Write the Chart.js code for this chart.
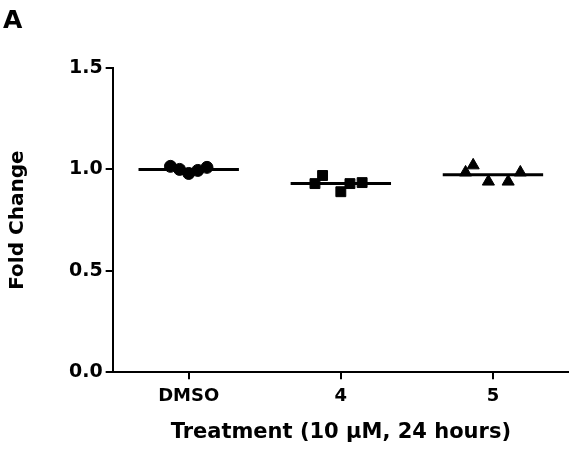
<!DOCTYPE html>
<html>
<head>
<meta charset="utf-8">
<script src="https://cdn.jsdelivr.net/npm/chart.js@4/dist/chart.umd.min.js"></script>
<style>
  body { margin: 0; background: #fff; overflow: hidden; }
  #wrap { width: 577px; height: 449px; }
</style>
</head>
<body>
<div id="wrap"><canvas id="chart"></canvas></div>
<script>
const categories = ["DMSO", "4", "5"];
const dmsoValues = [1.015, 1.0, 0.98, 0.995, 1.01];
const cmpd4Values = [0.93, 0.97, 0.89, 0.93, 0.935];
const cmpd5Values = [0.985, 1.02, 0.94, 0.94, 0.985];
const yTicks = [0, 0.5, 1.0, 1.5];

// horizontal spread of the dots inside each column (layout only)
const spread = [
  [-0.12, -0.06, 0, 0.06, 0.12],
  [-0.17, -0.12, 0, 0.06, 0.14],
  [-0.18, -0.13, -0.03, 0.1, 0.18]
];
const markers = ["circle", "rect", "triangle"];
const markerSize = [6, 7, 7];
const meanHalfWidth = 0.33;
const FONT = "'DejaVu Sans', 'Liberation Sans', Arial, sans-serif";

const groups = [dmsoValues, cmpd4Values, cmpd5Values];
const mean = arr => arr.reduce((a, b) => a + b, 0) / arr.length;

const datasets = [];
groups.forEach((vals, i) => {
  datasets.push({
    type: "scatter",
    label: categories[i],
    data: vals.map((v, j) => ({ x: i + spread[i][j], y: v })),
    pointStyle: markers[i],
    pointRadius: markerSize[i],
    backgroundColor: "#000",
    borderColor: "#000",
    borderWidth: 1
  });
  const m = mean(vals);
  datasets.push({
    type: "line",
    label: categories[i] + " mean",
    data: [{ x: i - meanHalfWidth, y: m }, { x: i + meanHalfWidth, y: m }],
    borderColor: "#000",
    borderWidth: 3,
    pointRadius: 0
  });
});

// panel letter
const panelLetter = {
  id: "panelLetter",
  afterDraw(chart) {
    const ctx = chart.ctx;
    ctx.save();
    ctx.fillStyle = "#000";
    ctx.font = "bold 25px " + FONT;
    ctx.textBaseline = "alphabetic";
    ctx.fillText("A", 3, 28);
    ctx.restore();
  }
};

new Chart(document.getElementById("chart"), {
  data: { datasets: datasets },
  options: {
    responsive: true,
    maintainAspectRatio: false,
    animation: false,
    layout: { padding: { top: 68, left: 6, right: 0, bottom: 4 } },
    plugins: { legend: { display: false }, tooltip: { enabled: false } },
    scales: {
      x: {
        type: "linear",
        min: -0.5,
        max: 2.5,
        afterBuildTicks: axis => { axis.ticks = categories.map((c, i) => ({ value: i })); },
        border: { color: "#000", width: 2 },
        grid: { drawOnChartArea: false, color: "#000", lineWidth: 2, tickLength: 7 },
        ticks: {
          color: "#000",
          font: { family: FONT, size: 18, weight: "bold" },
          padding: 6,
          callback: v => categories[v]
        },
        title: {
          display: true,
          text: "Treatment (10 \u00b5M, 24 hours)",
          color: "#000",
          font: { family: FONT, size: 21, weight: "bold" },
          padding: { top: 7, bottom: 0 }
        }
      },
      y: {
        min: 0,
        max: 1.5,
        afterBuildTicks: axis => { axis.ticks = yTicks.map(v => ({ value: v })); },
        border: { color: "#000", width: 2 },
        grid: { drawOnChartArea: false, color: "#000", lineWidth: 2, tickLength: 7 },
        ticks: {
          color: "#000",
          font: { family: FONT, size: 19, weight: "bold" },
          padding: 3,
          callback: v => v.toFixed(1)
        },
        title: {
          display: true,
          text: "Fold Change",
          color: "#000",
          font: { family: FONT, size: 20, weight: "bold" },
          padding: { top: 0, bottom: 36 }
        }
      }
    }
  },
  plugins: [panelLetter]
});
</script>
</body>
</html>
